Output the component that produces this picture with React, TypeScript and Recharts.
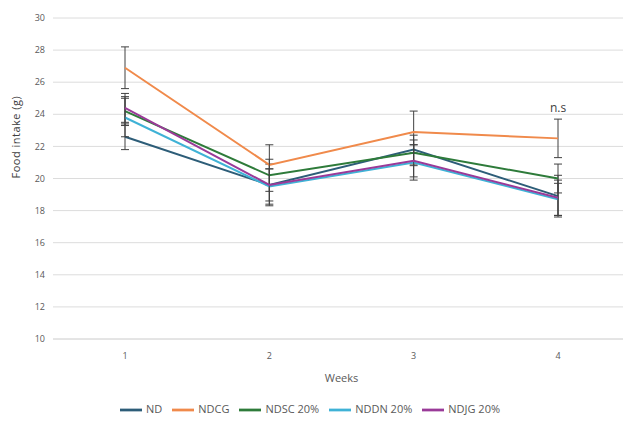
import React from 'react';
import { LineChart, Line, XAxis, YAxis, CartesianGrid, Legend, ErrorBar, ReferenceDot } from 'recharts';

const weeks = ['1', '2', '3', '4'];

const nd = [22.6, 19.6, 21.8, 18.9];
const ndErr = [0.8, 1.3, 0.9, 1.3];
const ndcg = [26.9, 20.85, 22.9, 22.5];
const ndcgErr = [1.3, 1.25, 1.3, 1.2];
const ndsc = [24.2, 20.2, 21.6, 20.0];
const ndscErr = [0.9, 1.0, 0.8, 0.9];
const nddn = [23.8, 19.5, 21.0, 18.7];
const nddnErr = [1.2, 1.1, 1.1, 1.0];
const ndjg = [24.4, 19.6, 21.1, 18.8];
const ndjgErr = [0.9, 1.0, 1.0, 1.1];

const yTicks = [10, 12, 14, 16, 18, 20, 22, 24, 26, 28, 30];

const data = weeks.map((w, i) => ({
  week: w,
  nd: nd[i], ndErr: ndErr[i],
  ndcg: ndcg[i], ndcgErr: ndcgErr[i],
  ndsc: ndsc[i], ndscErr: ndscErr[i],
  nddn: nddn[i], nddnErr: nddnErr[i],
  ndjg: ndjg[i], ndjgErr: ndjgErr[i],
}));

const series = [
  { key: 'nd', name: 'ND', color: '#2d5d78' },
  { key: 'ndcg', name: 'NDCG', color: '#f08a4b' },
  { key: 'ndsc', name: 'NDSC 20%', color: '#2e7b3a' },
  { key: 'nddn', name: 'NDDN 20%', color: '#3fb2d6' },
  { key: 'ndjg', name: 'NDJG 20%', color: '#9a3a98' },
];

const font = "'Open Sans', sans-serif";

export default function App() {
  return (
    <div style={{ position: 'fixed', left: 0, top: 0, width: 623, height: 423, overflow: 'hidden', background: '#fff' }}>
      <LineChart
        width={630}
        height={423}
        data={data}
        margin={{ top: 18, right: 0, left: 0, bottom: 2 }}
        style={{ fontFamily: font }}
      >
        <CartesianGrid vertical={false} stroke="#dcdcdc" />
        <XAxis
          dataKey="week"
          height={60}
          padding={{ left: 72, right: 72 }}
          axisLine={{ stroke: '#dcdcdc' }}
          tickLine={false}
          tickMargin={8}
          tick={{ fill: '#595959', fontSize: 9 }}
          label={{ value: 'Weeks', position: 'insideBottom', offset: 17, fill: '#595959', fontSize: 11 }}
        />
        <YAxis
          width={53}
          domain={[10, 30]}
          ticks={yTicks}
          axisLine={false}
          tickLine={false}
          tick={{ fill: '#595959', fontSize: 9 }}
          label={{ value: 'Food intake (g)', angle: -90, position: 'insideLeft', offset: 16, fill: '#404040', fontSize: 11, letterSpacing: 0.5 }}
        />
        <Legend
          verticalAlign="bottom"
          iconType="plainline"
          iconSize={22}
          itemSorter={(item: any) => series.findIndex((s) => s.name === item.value)}
          wrapperStyle={{ fontSize: 11, color: '#595959' }}
          formatter={(v: string) => <span style={{ color: '#595959' }}>{v}</span>}
        />
        {series.map((s) => (
          <Line
            key={s.key}
            dataKey={s.key}
            name={s.name}
            stroke={s.color}
            strokeWidth={2}
            dot={false}
            isAnimationActive={false}
          >
            <ErrorBar dataKey={s.key + 'Err'} width={4} stroke="#404040" strokeWidth={1} direction="y" />
          </Line>
        ))}
        <ReferenceDot
          x="4"
          y={24.4}
          r={0}
          ifOverflow="visible"
          label={{ value: 'n.s', position: 'center', fill: '#404040', fontSize: 12 }}
        />
      </LineChart>
    </div>
  );
}
